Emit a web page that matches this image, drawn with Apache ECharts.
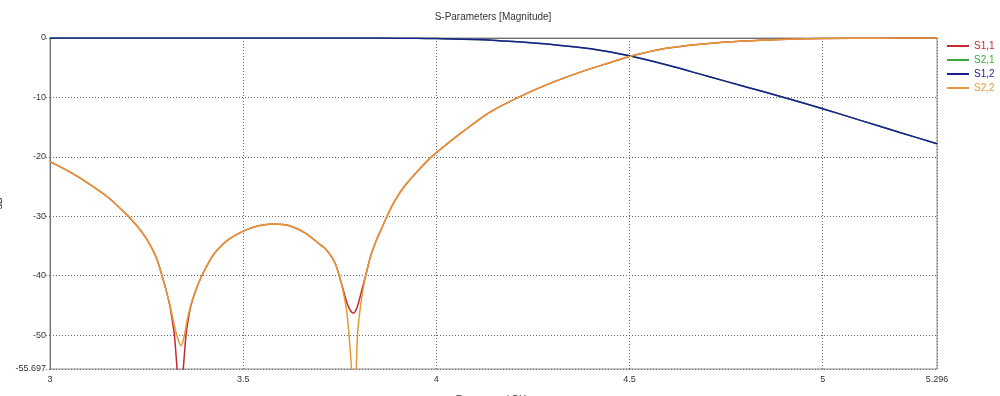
<!DOCTYPE html>
<html>
<head>
<meta charset="utf-8">
<script src="https://cdn.jsdelivr.net/npm/echarts@6/dist/echarts.min.js"></script>
<style>
html,body{margin:0;padding:0;background:#fff;}
#chart{width:1000px;height:396px;}
</style>
</head>
<body>
<div id="chart"></div>
<script>
// ---- data (frequency in GHz, magnitude in dB) ----
const seriesNames = ['S1,1', 'S2,1', 'S1,2', 'S2,2'];

const s11Freq = [3.00, 3.05, 3.10, 3.15, 3.20, 3.21, 3.23, 3.25, 3.27, 3.28, 3.29, 3.30, 3.31, 3.316, 3.322, 3.329, 3.337, 3.345, 3.352, 3.358, 3.365, 3.38, 3.393, 3.415, 3.43, 3.46, 3.50, 3.54, 3.58, 3.62, 3.66, 3.70, 3.71, 3.72, 3.73, 3.74, 3.75, 3.76, 3.77, 3.778, 3.785, 3.792, 3.80, 3.808, 3.817, 3.83, 3.845, 3.856, 3.871, 3.885, 3.90, 3.917, 3.935, 3.95, 3.975, 4.00, 4.072, 4.141, 4.215, 4.288, 4.375, 4.461, 4.50, 4.60, 4.729, 4.859, 5.00, 5.15, 5.296];
const s11Db   = [-20.8, -22.5, -24.5, -26.8, -29.8, -30.5, -32.0, -33.8, -36.2, -37.8, -40.0, -42.3, -45.0, -47.3, -50.0, -55.7, -62.0, -55.7, -50.0, -47.3, -45.0, -42.0, -40.0, -37.3, -35.9, -34.0, -32.5, -31.6, -31.3, -31.6, -32.8, -34.8, -35.3, -36.0, -36.9, -38.2, -40.3, -42.6, -44.8, -45.9, -46.3, -45.8, -44.2, -42.2, -40.0, -36.7, -34.0, -32.4, -30.2, -28.3, -26.6, -25.0, -23.6, -22.5, -20.8, -19.3, -15.6, -12.4, -9.9, -7.8, -5.7, -3.9, -3.1, -1.7, -0.8, -0.35, -0.1, -0.03, 0.0];

const s22Freq = [3.00, 3.05, 3.10, 3.15, 3.20, 3.21, 3.23, 3.25, 3.27, 3.28, 3.29, 3.30, 3.31, 3.32, 3.328, 3.339, 3.348, 3.355, 3.365, 3.38, 3.393, 3.415, 3.43, 3.46, 3.50, 3.54, 3.58, 3.62, 3.66, 3.70, 3.71, 3.72, 3.73, 3.74, 3.75, 3.76, 3.768, 3.774, 3.782, 3.787, 3.792, 3.796, 3.805, 3.817, 3.83, 3.845, 3.856, 3.871, 3.885, 3.90, 3.917, 3.935, 3.95, 3.975, 4.00, 4.072, 4.141, 4.215, 4.288, 4.375, 4.461, 4.50, 4.60, 4.729, 4.859, 5.00, 5.15, 5.296];
const s22Db   = [-20.8, -22.5, -24.5, -26.8, -29.8, -30.5, -32.0, -33.8, -36.2, -37.8, -40.0, -42.3, -44.8, -47.8, -50.0, -51.8, -50.0, -47.5, -44.8, -42.0, -40.0, -37.3, -35.9, -34.0, -32.5, -31.6, -31.3, -31.6, -32.8, -34.8, -35.3, -36.0, -36.9, -38.2, -40.3, -43.0, -46.0, -50.0, -57.0, -62.0, -57.0, -50.0, -44.5, -40.0, -36.7, -34.0, -32.4, -30.2, -28.3, -26.6, -25.0, -23.6, -22.5, -20.8, -19.3, -15.6, -12.4, -9.9, -7.8, -5.7, -3.9, -3.1, -1.7, -0.8, -0.35, -0.1, -0.03, 0.0];

const s21Freq = [3.00, 3.40, 3.70, 3.85, 3.95, 4.00, 4.10, 4.20, 4.30, 4.40, 4.50, 4.60, 4.70, 4.80, 4.90, 5.00, 5.10, 5.20, 5.296];
const s21Db   = [0.0, 0.0, 0.0, -0.02, -0.06, -0.1, -0.25, -0.6, -1.1, -1.8, -3.0, -4.6, -6.4, -8.2, -10.0, -11.9, -13.9, -15.9, -17.8];
const s12Freq = s21Freq;
const s12Db   = s21Db;

const xTickMin = 3, xTickMax = 5.296, xTickStep = 0.5;
const yTickMin = -55.697, yTickMax = 0, ySplitCount = 5;

// ---- chart ----
const colors = ['#c42a32', '#3aa83a', '#1c1c94', '#e69a34'];
const pairs = (f, v) => f.map((x, i) => [x, v[i]]);
const dataSets = [pairs(s11Freq, s11Db), pairs(s21Freq, s21Db), pairs(s12Freq, s12Db), pairs(s22Freq, s22Db)];

const font = 'Liberation Sans, DejaVu Sans, sans-serif';
const chart = echarts.init(document.getElementById('chart'), null, {renderer: 'canvas'});
chart.setOption({
  animation: false,
  backgroundColor: '#ffffff',
  title: {
    text: 'S-Parameters [Magnitude]',
    left: 493, top: 12, padding: 0, textAlign: 'center',
    textStyle: {fontFamily: font, fontSize: 10, fontWeight: 'normal', color: '#333'}
  },
  legend: {
    orient: 'vertical', left: 947, top: 41, padding: 0,
    itemWidth: 22, itemHeight: 2, itemGap: 4, icon: 'rect',
    textStyle: {fontFamily: font, fontSize: 10},
    data: seriesNames.map((n, i) => ({name: n, textStyle: {color: colors[i]}}))
  },
  grid: {
    left: 50, right: 63, top: 38, bottom: 27,
    outerBoundsMode: 'none', containLabel: false,
    show: true, borderColor: '#8c8c8c', borderWidth: 1, backgroundColor: 'transparent'
  },
  xAxis: {
    type: 'value', min: xTickMin, max: xTickMax, interval: xTickStep,
    name: 'Frequency / GHz', nameLocation: 'middle', nameGap: 26,
    nameTextStyle: {fontFamily: font, fontSize: 10, color: '#333'},
    axisLine: {show: true, lineStyle: {color: '#707070', width: 1}},
    axisTick: {show: false},
    axisLabel: {fontFamily: font, fontSize: 9, color: '#333', margin: 6, showMaxLabel: true, showMinLabel: true},
    splitLine: {show: true, lineStyle: {color: '#666', type: [1, 2], width: 1}}
  },
  yAxis: {
    type: 'value', min: yTickMin, max: yTickMax, splitNumber: ySplitCount,
    name: 'dB', nameLocation: 'middle', nameGap: 46, nameRotate: 90,
    nameTextStyle: {fontFamily: font, fontSize: 10, color: '#333'},
    axisLine: {show: true, lineStyle: {color: '#707070', width: 1}},
    axisTick: {show: true, length: 6, lineStyle: {color: '#666', type: [1, 2]}},
    axisLabel: {fontFamily: font, fontSize: 9, color: '#333', margin: 4, showMinLabel: true, showMaxLabel: true,
      formatter: v => String(Math.round(v * 1000) / 1000)},
    splitLine: {show: true, lineStyle: {color: '#666', type: [1, 2], width: 1}}
  },
  series: seriesNames.map((n, i) => ({
    name: n, type: 'line', data: dataSets[i],
    showSymbol: false, symbol: 'none', smooth: 0.3, clip: true,
    color: colors[i],
    lineStyle: {color: colors[i], width: 1.5},
    z: i === 3 ? 4 : (i === 2 ? 3 : 2)
  }))
});
</script>
</body>
</html>
